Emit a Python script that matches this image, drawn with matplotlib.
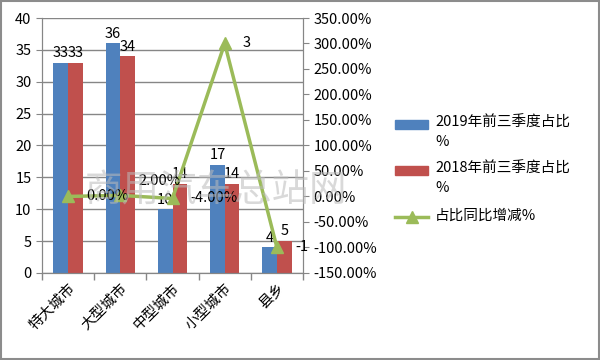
import numpy as np
import matplotlib.pyplot as plt
from matplotlib.ticker import FuncFormatter, FixedLocator

plt.rcParams['font.family'] = ['Noto Sans CJK SC', 'DejaVu Sans']

categories = ['特大城市', '大型城市', '中型城市', '小型城市', '县乡']
share_2019 = [33, 36, 10, 17, 4]
share_2018 = [33, 34, 14, 14, 5]
change = [0.0, 0.02, -0.04, 3.0, -1.0]
change_labels = ['0.00%', '2.00%', '-4.00%', '3', '-1']
series_names = ['2019年前三季度占比\n%', '2018年前三季度占比\n%', '占比同比增减%']

blue = '#4F81BD'
red = '#C0504D'
green = '#9BBB59'
grid = '#868686'

fig = plt.figure(figsize=(6, 3.6), dpi=100)
fig.patches.append(plt.Rectangle((0.002, 0.003), 0.996, 0.994, transform=fig.transFigure,
                                 fill=False, edgecolor='#8c8c8c', linewidth=1.5))

ax = fig.add_axes([0.07, 0.242, 0.435, 0.708])
x = np.arange(len(categories))
w = 0.28
b1 = ax.bar(x - w / 2, share_2019, w, color=blue, zorder=2)
b2 = ax.bar(x + w / 2, share_2018, w, color=red, zorder=2)
for bars, vals in ((b1, share_2019), (b2, share_2018)):
    for r, v in zip(bars, vals):
        ax.text(r.get_x() + r.get_width() / 2, v + 0.4, str(v), ha='center', va='bottom',
                fontsize=10.5, zorder=5)

ax.set_xlim(-0.5, len(categories) - 0.5)
ax.set_ylim(0, 40)
ax.set_yticks(range(0, 41, 5))
ax.yaxis.grid(True, color=grid, linewidth=1, zorder=0)
ax.set_xticks(x)
ax.set_xticklabels(categories, rotation=45, ha='right', rotation_mode='anchor', fontsize=10.5)
ax.xaxis.set_minor_locator(FixedLocator(np.arange(-0.5, len(categories), 1)))
ax.tick_params(axis='x', which='major', length=0, pad=6)
ax.tick_params(axis='x', which='minor', length=5, color=grid, width=1)
ax.tick_params(axis='y', length=4, color=grid, labelsize=10.5)
ax.spines['top'].set_visible(False)
for s in ('left', 'bottom', 'right'):
    ax.spines[s].set_color(grid)

ax2 = ax.twinx()
ax2.plot(x, change, color=green, linewidth=2.5, marker='^', markersize=9, zorder=4)
for i, (xi, v, t) in enumerate(zip(x, change, change_labels)):
    # the 2.00% label sits a little higher in the original
    dy = 0.28 if i == 1 else 0
    ax2.text(xi + 0.35, v + dy, t, ha='left', va='center', fontsize=10.5, zorder=6)
ax2.set_ylim(-1.5, 3.5)
ax2.set_yticks(np.arange(-1.5, 3.51, 0.5))
ax2.yaxis.set_major_formatter(FuncFormatter(lambda v, p: f'{v * 100:.2f}%'))
ax2.tick_params(axis='y', length=4, color=grid, labelsize=10.5)
ax2.spines['top'].set_visible(False)
for s in ('left', 'bottom', 'right'):
    ax2.spines[s].set_color(grid)

fig.text(0.36, 0.47, '商用汽车总站网', fontsize=27, color='#bbbbbb', alpha=0.55,
         fontweight='light', ha='center', va='center', zorder=10)

# legend drawn by hand, swatch level with the first text line
lg = fig.add_axes([0, 0, 1, 1], facecolor='none')
lg.set_xlim(0, 600)
lg.set_ylim(360, 0)
lg.axis('off')
rows = [124, 170, 217]
for y, c in zip(rows[:2], [blue, red]):
    lg.add_patch(plt.Rectangle((395, y - 4.5), 33, 9, color=c))
lg.plot([395, 428], [rows[2], rows[2]], color=green, linewidth=2.5)
lg.plot([411.5], [rows[2]], marker='^', color=green, markersize=9)
for y, name in zip(rows, series_names):
    lg.text(435, y - 8, name, ha='left', va='top', fontsize=10.5, linespacing=1.45)

fig.savefig('out.png', dpi=100)
